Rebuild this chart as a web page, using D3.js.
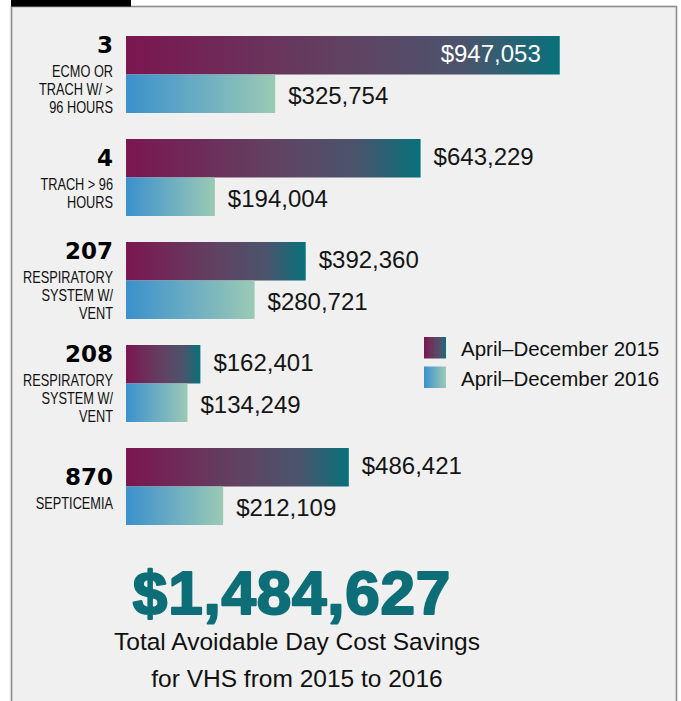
<!DOCTYPE html>
<html>
<head>
<meta charset="utf-8">
<script src="https://cdn.jsdelivr.net/npm/d3@7"></script>
<style>
  html, body { margin: 0; padding: 0; background: #ffffff; }
  svg { display: block; }
</style>
</head>
<body>
<svg id="chart" width="681" height="701"></svg>
<script>
// ---- data ----
const codes = ["3", "4", "207", "208", "870"];
const descriptions = [
  ["ECMO OR", "TRACH W/ >", "96 HOURS"],
  ["TRACH > 96", "HOURS"],
  ["RESPIRATORY", "SYSTEM W/", "VENT"],
  ["RESPIRATORY", "SYSTEM W/", "VENT"],
  ["SEPTICEMIA"]
];
const savings2015 = [947053, 643229, 392360, 162401, 486421];
const savings2016 = [325754, 194004, 280721, 134249, 212109];
const seriesNames = ["April\u2013December 2015", "April\u2013December 2016"];
const summaryLines = ["Total Avoidable Day Cost Savings", "for VHS from 2015 to 2016"];

// ---- setup ----
const svg = d3.select("#chart");
const W = 681, H = 701;
const defs = svg.append("defs");

function grad(id, stops) {
  const g = defs.append("linearGradient").attr("id", id)
    .attr("x1", "0%").attr("x2", "100%").attr("y1", "0%").attr("y2", "0%");
  stops.forEach(([o, c]) => g.append("stop").attr("offset", o).attr("stop-color", c));
}
grad("g2015", [["0%", "#7b1650"], ["50%", "#614263"], ["78%", "#4b546c"], ["100%", "#07717b"]]);
grad("g2016", [["0%", "#3a91cc"], ["50%", "#6cadc2"], ["100%", "#9bcab5"]]);
const fills = ["url(#g2015)", "url(#g2016)"];

// background + frame
svg.append("rect").attr("x", 0).attr("y", 0).attr("width", W).attr("height", H).attr("fill", "#ffffff");
svg.append("rect").attr("x", 11.5).attr("y", 6.5).attr("width", 665).attr("height", 720)
  .attr("fill", "#f0f0f0").attr("stroke", "#8c8c8c").attr("stroke-width", 1.6);
svg.append("rect").attr("x", 11).attr("y", 0).attr("width", 120).attr("height", 6.5).attr("fill", "#000");

// scales
const x0 = 126;
const x = d3.scaleLinear().domain([0, 1000000]).range([x0, x0 + 458]);
const y = d3.scaleBand().domain(codes).range([36, 525]).paddingInner(26 / 103).paddingOuter(0);
const ySub = d3.scaleBand().domain([0, 1]).range([0, y.bandwidth()]);

const rows = codes.map((c, i) => ({ code: c, desc: descriptions[i], vals: [savings2015[i], savings2016[i]] }));

const g = svg.append("g");
const fmt = d3.format("$,");

rows.forEach(r => {
  const top = y(r.code);
  r.vals.forEach((v, s) => {
    const by = top + ySub(s);
    const bh = ySub.bandwidth();
    g.append("rect")
      .attr("x", x(0)).attr("y", by)
      .attr("width", x(v) - x(0)).attr("height", bh)
      .attr("fill", fills[s]);
    const inside = (x(v) - x(0)) > 380;
    const cy = by + bh / 2 + (s === 0 ? 7 : 10);
    g.append("text")
      .attr("x", inside ? x(v) - 19 : x(v) + 13)
      .attr("y", cy)
      .attr("text-anchor", inside ? "end" : "start")
      .attr("font-family", "'Liberation Sans', Arial, sans-serif")
      .attr("font-size", 24)
      .attr("fill", inside ? "#ffffff" : "#151515")
      .text(fmt(v));
  });
  // category labels
  const n = r.desc.length;
  const nb = top + 17 + (3 - n) * 10;
  g.append("text")
    .attr("x", 113).attr("y", nb)
    .attr("text-anchor", "end")
    .attr("font-family", "'DejaVu Sans', sans-serif")
    .attr("font-weight", "bold")
    .attr("font-size", 23)
    .attr("fill", "#000")
    .text(r.code);
  r.desc.forEach((line, li) => {
    g.append("text")
      .attr("transform", `translate(113,${nb + 24 + li * 18}) scale(0.75,1)`)
      .attr("text-anchor", "end")
      .attr("font-family", "'Liberation Sans', Arial, sans-serif")
      .attr("font-size", 17)
      .attr("fill", "#111")
      .text(line);
  });
});

// legend
const lg = svg.append("g").attr("transform", "translate(424,337)");
seriesNames.forEach((name, i) => {
  lg.append("rect").attr("x", 0).attr("y", i * 29.5).attr("width", 22).attr("height", 21.5).attr("fill", fills[i]);
  lg.append("text").attr("x", 37).attr("y", i * 29.5 + 19)
    .attr("font-family", "'Liberation Sans', Arial, sans-serif")
    .attr("font-size", 20.5).attr("fill", "#111").text(name);
});

// total
const total = d3.sum(savings2015) - d3.sum(savings2016);
svg.append("text")
  .attr("x", 292).attr("y", 614)
  .attr("text-anchor", "middle")
  .attr("font-family", "'Liberation Sans', Arial, sans-serif")
  .attr("font-weight", "bold")
  .attr("font-size", 62)
  .attr("letter-spacing", 0.8)
  .attr("fill", "#0d6e78")
  .attr("stroke", "#0d6e78").attr("stroke-width", 2.2).attr("stroke-linejoin", "round")
  .text(fmt(total));
summaryLines.forEach((line, i) => {
  svg.append("text")
    .attr("x", 297).attr("y", 650 + i * 37)
    .attr("text-anchor", "middle")
    .attr("font-family", "'Liberation Sans', Arial, sans-serif")
    .attr("font-size", 24.5)
    .attr("fill", "#111")
    .text(line);
});
</script>
</body>
</html>
